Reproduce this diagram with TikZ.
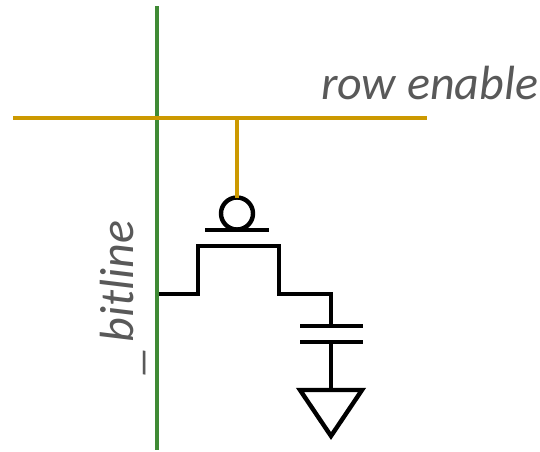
\documentclass[tikz,border=0pt]{standalone}
\usepackage{xcolor}
\usepackage{fontspec}
\setmainfont{Carlito}
\usepackage{tikz}
\usetikzlibrary{positioning}
\definecolor{bitgreen}{HTML}{3F8A35}
\definecolor{rowgold}{HTML}{CC9900}
\definecolor{labelgray}{HTML}{595959}

\tikzset{
    wire/.style={line width=3.3pt, line join=miter},
    label text/.style={text=labelgray, font=\itshape\fontsize{36}{40}\selectfont, inner sep=0pt}
}

\begin{document}
\begin{tikzpicture}[x=0.75pt, y=-0.75pt]
\useasboundingbox (0,0) rectangle (540,451);

\coordinate (bitTop) at (157,6);
\coordinate (bitBottom) at (157,450);
\coordinate (rowLeft) at (13,118);
\coordinate (rowRight) at (427,118);
\coordinate (rowTap) at (237,118);
\coordinate (gateLeft) at (205,230);
\coordinate (gateRight) at (269,230);
\coordinate (source) at (157,294);
\coordinate (drain) at (331,294);
\coordinate (plateTop) at (331,326);
\coordinate (plateBottom) at (331,342);
\coordinate (groundTop) at (331,390);
\coordinate (groundLeft) at (300,390);
\coordinate (groundRight) at (362,390);
\coordinate (groundTip) at (331,436);

\node (bubble) [circle, draw, line width=3.3pt, outer sep=0pt, minimum size=24pt, inner sep=0pt] at (237,213.5) {};
\node (row) [label text, anchor=base] at (429.5,99) {row enable};
\node (bit) [label text, anchor=base, rotate=90] at (133,299) {\raisebox{-4.5pt}{\scalebox{1.45}[1]{\_}}bitline};

\draw[wire] (gateLeft) -- (gateRight);
\draw[wire] (source) -- (198,294) -- (198,246) -- (279,246) -- (279,294) -- (drain) -- (plateTop);
\draw[wire] (300,326) -- (363,326);
\draw[wire] (300,342) -- (363,342);
\draw[wire] (plateBottom) -- (groundTop);
\draw[wire] (groundLeft) -- (groundRight) -- (groundTip) -- cycle;

\draw[wire, bitgreen] (bitTop) -- (bitBottom);
\draw[wire, rowgold] (rowLeft) -- (rowRight);
\draw[wire, rowgold] (rowTap) -- (bubble.north);
\end{tikzpicture}
\end{document}
